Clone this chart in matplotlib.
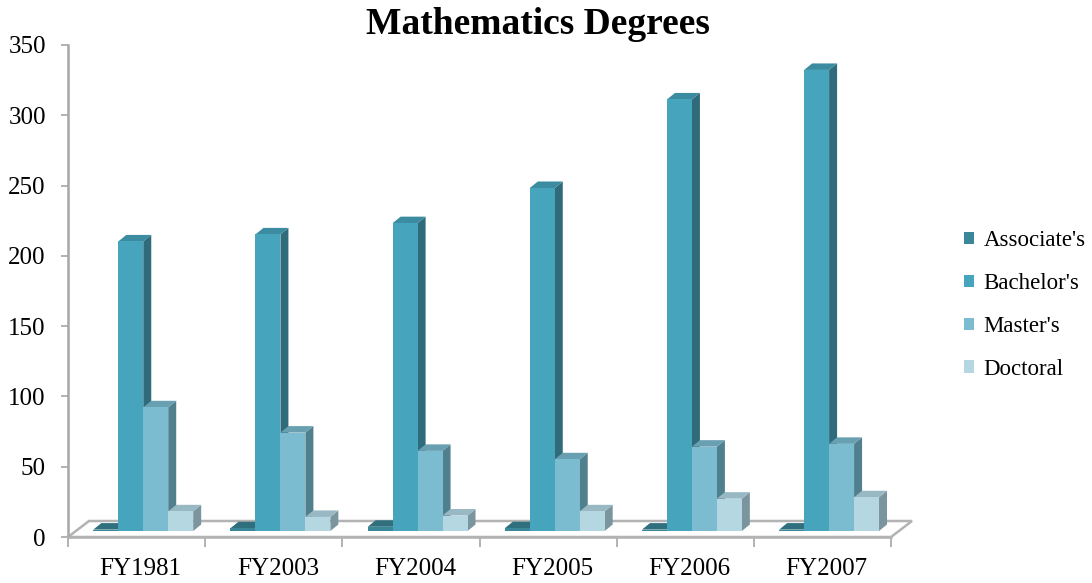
import matplotlib
matplotlib.use("Agg")
import matplotlib.pyplot as plt
from matplotlib.patches import Polygon, Rectangle
import numpy as np

plt.rcParams['font.family'] = ['Liberation Serif', 'DejaVu Serif']

# --- data -------------------------------------------------------------
years = ["FY1981", "FY2003", "FY2004", "FY2005", "FY2006", "FY2007"]
series = ["Associate's", "Bachelor's", "Master's", "Doctoral"]
associates = [1, 2, 3, 2, 1, 1]
bachelors = [206, 211, 219, 244, 307, 328]
masters = [88, 70, 57, 51, 60, 62]
doctoral = [14, 10, 11, 14, 23, 24]
y_ticks = [0, 50, 100, 150, 200, 250, 300, 350]

# face colours: front, top, side
front_colors = ["#3a8799", "#47a4bd", "#7bbcd1", "#b5d7e2"]
top_colors = ["#2f6f7e", "#3b8ba1", "#689fb1", "#98b8c3"]
side_colors = ["#2b6473", "#2f6b7b", "#50808e", "#7b959e"]

# --- figure -----------------------------------------------------------
W, H, DPI = 1092, 583, 100
fig = plt.figure(figsize=(W / DPI, H / DPI), dpi=DPI)
ax_l, ax_r, ax_b, ax_t = 68, 891, 537, 45  # pixel box of the plot area
ax = fig.add_axes([ax_l / W, (H - ax_b) / H, (ax_r - ax_l) / W, (ax_b - ax_t) / H])
ax.set_xlim(0, len(years))
ax.set_ylim(0, 350)

px_x = (ax_r - ax_l) / len(years)   # pixels per category
px_y = (ax_b - ax_t) / 350.0        # pixels per unit value


def off(dx_px, dy_px):
    return dx_px / px_x, dy_px / px_y


# floor of the 3D box
fdx, fdy = off(21, 16)
floor = Polygon([(0, 0), (6, 0), (6 + fdx, fdy), (0 + fdx, fdy)], closed=True,
                facecolor="white", edgecolor="#b3b3b3", lw=1.8,
                clip_on=False, zorder=1)
ax.add_patch(floor)

# bars with depth
values = [associates, bachelors, masters, doctoral]
bar_w = 0.182
start = 0.13
fx, fy = off(7.5, 6)      # front plane offset from floor front
dx, dy = off(8, 6.5)      # bar depth

for i in range(len(years)):
    for s in range(len(series)):
        v = values[s][i]
        x0 = i + start + s * bar_w + fx
        x1 = x0 + bar_w
        y0 = fy
        y1 = fy + v
        side = Polygon([(x1, y0), (x1, y1), (x1 + dx, y1 + dy), (x1 + dx, y0 + dy)],
                       closed=True, facecolor=side_colors[s], edgecolor="none",
                       clip_on=False, zorder=2)
        top = Polygon([(x0, y1), (x1, y1), (x1 + dx, y1 + dy), (x0 + dx, y1 + dy)],
                      closed=True, facecolor=top_colors[s], edgecolor="none",
                      clip_on=False, zorder=2)
        front = Rectangle((x0, y0), bar_w, v, facecolor=front_colors[s],
                          edgecolor="none", clip_on=False, zorder=2)
        ax.add_patch(side)
        ax.add_patch(top)
        ax.add_patch(front)

# axes styling
for sp in ["top", "right"]:
    ax.spines[sp].set_visible(False)
ax.spines["left"].set_color("#a6a6a6")
ax.spines["left"].set_linewidth(1.8)
ax.spines["bottom"].set_color("#b3b3b3")
ax.spines["bottom"].set_linewidth(1.8)
ax.spines["bottom"].set_zorder(3)

ax.set_yticks(y_ticks)
ax.set_yticklabels([str(t) for t in y_ticks], fontsize=18)
ax.tick_params(axis="y", length=5, width=1.2, color="#a6a6a6", pad=11)

ax.set_xticks(np.arange(len(years) + 1), minor=True)
ax.set_xticks(np.arange(len(years)) + 0.53)
ax.set_xticklabels(years, fontsize=18)
ax.tick_params(axis="x", which="major", length=0, pad=15)
ax.tick_params(axis="x", which="minor", length=7, width=1.2, color="#a6a6a6")

fig.text(538 / W, 1 - 24 / H, "Mathematics Degrees", ha="center", va="center",
         fontsize=27, fontweight="bold")

# legend
handles = [Rectangle((0, 0), 1, 1, facecolor=c, edgecolor="none") for c in front_colors]
fig.legend(handles, series, loc="center left",
           bbox_to_anchor=(955 / W, 1 - 305 / H), frameon=False,
           fontsize=16.5, handlelength=0.45, handleheight=0.45,
           handletextpad=0.4, labelspacing=0.95, borderaxespad=0)

fig.savefig("out.png", dpi=DPI)
